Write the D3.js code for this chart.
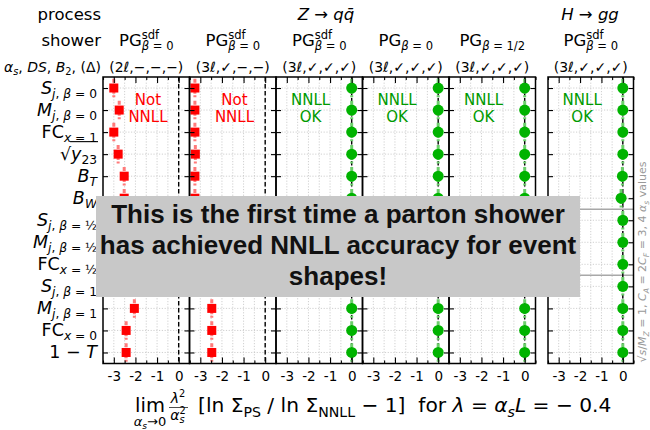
<!DOCTYPE html>
<html>
<head>
<meta charset="utf-8">
<script src="https://cdn.jsdelivr.net/npm/d3@7"></script>
<style>
  body { margin: 0; background: #fff; }
  svg { font-family: "DejaVu Sans", sans-serif; }
  svg text { white-space: pre; }
</style>
</head>
<body>
<div id="chart"></div>
<script>
// rows, top to bottom (*..* italic, _{..} subscript, ^{..} superscript)
const observables = [
  '*S*_{*j*, *β* = 0}', '*M*_{*j*, *β* = 0}', 'FC_{*x* = 1}', '√*y*_{23}', '*B*_{*T*}', '*B*_{*W*}',
  '*S*_{*j*, *β* = ½}', '*M*_{*j*, *β* = ½}', 'FC_{*x* = ½}', '*S*_{*j*, *β* = 1}', '*M*_{*j*, *β* = 1}',
  'FC_{*x* = 0}', '1 − *T*'
];

// one column per shower
const showerNames = ['PG^{sdf}_{*β* = 0}', 'PG^{sdf}_{*β* = 0}', 'PG^{sdf}_{*β* = 0}',
  'PG_{*β* = 0}', 'PG_{*β* = 1/2}', 'PG^{sdf}_{*β* = 0}'];
const showerFlags = ['(2ℓ,−,−,−)', '(3ℓ,✓,−,−)', '(3ℓ,✓,✓,✓)', '(3ℓ,✓,✓,✓)', '(3ℓ,✓,✓,✓)', '(3ℓ,✓,✓,✓)'];
const nnllOk = [false, false, true, true, true, true];

// lim (λ²/αs²)[ln Σ_PS / ln Σ_NNLL − 1], per observable
const pgSdf2loop = [-3.0, -2.75, -3.0, -2.8, -2.52, -2.52, -2.6, -2.45, -2.7, -2.3, -2.05, -2.43, -2.43];
const pgSdf3loopNoDS = [-3.25, -3.25, -3.25, -3.23, -3.25, -3.25, -3.2, -3.0, -3.2, -2.6, -2.47, -2.47, -2.47];
const pgSdfFull = [0, 0, 0, 0, 0, 0, 0, 0, 0, 0, 0, 0, 0];
const pgBeta0Full = [0, 0, 0, 0, 0, 0, 0, 0, 0, 0, 0, 0, 0];
const pgBetaHalfFull = [0, 0, 0, 0, 0, 0, 0, 0, 0, 0, 0, 0, 0];
const higgsSdfFull = [0, 0, 0, 0, -0.02, -0.08, 0, 0, 0, 0, 0, 0, 0];
const deviations = [pgSdf2loop, pgSdf3loopNoDS, pgSdfFull, pgBeta0Full, pgBetaHalfFull, higgsSdfFull];

const xTicks = [-3, -2, -1, 0];
const xDomain = [-3.5, 0.5];

// layout
const width = 650, height = 430;
const plotTop = 77, plotBottom = 363.5;
const panelW = 86.5;
const panelLeft = [103, 189.5, 276, 362.5, 449, 548];
const panelWidth = [panelW, panelW, panelW, panelW, panelW, 85.5];

const red = '#ff0000', redLight = '#ff7a7a';
const green = '#00b300', greenLight = '#6ccf6c', greenText = '#009a00';

const svg = d3.select('#chart').append('svg')
  .attr('width', width)
  .attr('height', height);

// small mathtext-like renderer
function rich(text, str, fs) {
  let italic = false, mode = 0, shift = 0, buf = '';
  let supWidth = 0, justClosedSup = false, stack = false;
  const flush = () => {
    if (!buf) return;
    const target = mode === 1 ? fs * 0.24 : mode === -1 ? -fs * 0.42 : 0;
    const t = text.append('tspan')
      .attr('dy', (target - shift).toFixed(2))
      .attr('font-size', mode ? fs * 0.7 : fs)
      .attr('font-style', italic ? 'italic' : null)
      .text(buf);
    if (stack) { t.attr('dx', -supWidth); stack = false; }
    if (mode === -1) supWidth += t.node().getComputedTextLength();
    justClosedSup = false;
    shift = target;
    buf = '';
  };
  for (let i = 0; i < str.length; i++) {
    const c = str[i];
    if ((c === '_' || c === '^') && str[i + 1] === '{') {
      flush();
      if (c === '_' && justClosedSup) stack = true;
      if (c === '^') supWidth = 0;
      mode = c === '_' ? 1 : -1;
      i++;
    } else if (c === '}') {
      flush();
      justClosedSup = mode === -1;
      mode = 0;
    } else if (c === '*') {
      flush();
      italic = !italic;
    } else {
      buf += c;
      justClosedSup = false;
    }
  }
  flush();
  return text;
}

const yScale = d3.scaleLinear()
  .domain([-0.5, observables.length - 0.5])
  .range([plotTop, plotBottom]);
const rows = d3.range(observables.length);

panelLeft.forEach((left, k) => {
  const xScale = d3.scaleLinear().domain(xDomain).range([left, left + panelWidth[k]]);
  const g = svg.append('g');

  // dotted grid
  g.selectAll('.vgrid').data(d3.range(-3, 0.01, 0.5)).enter().append('line')
    .attr('x1', d => xScale(d)).attr('x2', d => xScale(d))
    .attr('y1', plotTop).attr('y2', plotBottom)
    .attr('stroke', '#c4c4c4').attr('stroke-width', 0.8).attr('stroke-dasharray', '1.2,1.6');
  g.selectAll('.hgrid').data(rows).enter().append('line')
    .attr('x1', left).attr('x2', left + panelWidth[k])
    .attr('y1', d => yScale(d)).attr('y2', d => yScale(d))
    .attr('stroke', '#c4c4c4').attr('stroke-width', 0.8).attr('stroke-dasharray', '1.2,1.6');

  // group separators
  g.selectAll('.sep').data([5.5, 8.5]).enter().append('line')
    .attr('x1', left).attr('x2', left + panelWidth[k])
    .attr('y1', d => yScale(d)).attr('y2', d => yScale(d))
    .attr('stroke', '#a8a8a8').attr('stroke-width', 1.5);

  // zero line
  g.append('line')
    .attr('x1', xScale(0)).attr('x2', xScale(0))
    .attr('y1', plotTop).attr('y2', plotBottom)
    .attr('stroke', '#000').attr('stroke-width', 1.4).attr('stroke-dasharray', '4.5,2.5');

  const vals = deviations[k];
  const ok = nnllOk[k];

  // spread of the finite-alpha_s runs
  g.selectAll('.spread').data(vals).enter().append('line')
    .attr('x1', d => xScale(d)).attr('x2', d => xScale(d))
    .attr('y1', (d, i) => yScale(i - 0.42)).attr('y2', (d, i) => yScale(i + 0.42))
    .attr('stroke', ok ? greenLight : redLight).attr('stroke-width', 3)
    .attr('stroke-dasharray', '4,1.5');

  if (ok) {
    g.selectAll('.pt').data(vals).enter().append('circle')
      .attr('cx', d => xScale(d)).attr('cy', (d, i) => yScale(i))
      .attr('r', 5.5).attr('fill', green);
  } else {
    g.selectAll('.pt').data(vals).enter().append('rect')
      .attr('x', d => xScale(d) - 4.5).attr('y', (d, i) => yScale(i) - 4.5)
      .attr('width', 9).attr('height', 9).attr('fill', red);
  }

  // verdict
  const verdict = ok ? ['NNLL', 'OK'] : ['Not', 'NNLL'];
  g.selectAll('.verdict').data(verdict).enter().append('text')
    .attr('x', xScale(ok ? -1.9 : -1.42))
    .attr('y', (d, i) => yScale(0) + 17 + 17 * i)
    .attr('text-anchor', 'middle')
    .attr('font-size', 15)
    .attr('fill', ok ? greenText : red)
    .text(d => d);

  // axes (ticks inward)
  const styleAxis = sel => {
    sel.select('.domain').remove();
    sel.selectAll('line').attr('stroke', '#000').attr('stroke-width', 1.1);
  };
  const minor = d3.range(-3.5, 0.51, 0.5).filter(v => v % 1 !== 0);
  g.append('g').attr('transform', `translate(0,${plotBottom})`)
    .call(d3.axisBottom(xScale).tickValues(xTicks).tickSize(-6).tickPadding(8).tickFormat(d => String(d)))
    .call(styleAxis)
    .call(a => a.selectAll('text').attr('font-size', 13.5).attr('font-family', 'DejaVu Sans').attr('fill', '#000'));
  g.append('g').attr('transform', `translate(0,${plotBottom})`)
    .call(d3.axisBottom(xScale).tickValues(minor).tickSize(-3).tickFormat(''))
    .call(styleAxis);
  g.append('g').attr('transform', `translate(0,${plotTop})`)
    .call(d3.axisTop(xScale).tickValues(xTicks).tickSize(-6).tickFormat(''))
    .call(styleAxis);
  g.append('g').attr('transform', `translate(0,${plotTop})`)
    .call(d3.axisTop(xScale).tickValues(minor).tickSize(-3).tickFormat(''))
    .call(styleAxis);
  g.append('g').attr('transform', `translate(${left},0)`)
    .call(d3.axisLeft(yScale).tickValues(rows).tickSize(-5).tickFormat(''))
    .call(styleAxis);
  g.append('g').attr('transform', `translate(${left + panelWidth[k]},0)`)
    .call(d3.axisRight(yScale).tickValues(rows).tickSize(-5).tickFormat(''))
    .call(styleAxis);

  // frame
  g.append('rect')
    .attr('x', left).attr('y', plotTop)
    .attr('width', panelWidth[k]).attr('height', plotBottom - plotTop)
    .attr('fill', 'none').attr('stroke', '#000').attr('stroke-width', 1.5);

  // column headers
  const cx = left + panelWidth[k] / 2;
  rich(svg.append('text').attr('x', cx).attr('y', 46).attr('text-anchor', 'middle'), showerNames[k], 16.5);
  rich(svg.append('text').attr('x', cx).attr('y', 72).attr('text-anchor', 'middle'), showerFlags[k], 14);
});

// row labels
rows.forEach(i => {
  const t = rich(svg.append('text')
    .attr('x', 97).attr('y', yScale(i) + 5.5).attr('text-anchor', 'end'), observables[i], 17.5);
  if (observables[i].startsWith('√')) {
    const bb = t.node().getBBox();
    const root = t.select('tspan').node().getComputedTextLength();
    svg.append('line')
      .attr('x1', bb.x + root - 1).attr('x2', bb.x + bb.width + 1)
      .attr('y1', yScale(i) - 12.5).attr('y2', yScale(i) - 12.5)
      .attr('stroke', '#000').attr('stroke-width', 1.1);
  }
});

// left header
svg.append('text').attr('x', 101).attr('y', 20).attr('text-anchor', 'end').attr('font-size', 16.5).text('process');
svg.append('text').attr('x', 101).attr('y', 46).attr('text-anchor', 'end').attr('font-size', 16.5).text('shower');
rich(svg.append('text').attr('x', 101).attr('y', 72).attr('text-anchor', 'end'), '*α*_{*s*}, *DS*, *B*_{2}, (Δ)', 14);

// process headers
rich(svg.append('text').attr('x', 326).attr('y', 20).attr('text-anchor', 'middle'), '*Z* → *qq̄*', 16.5);
rich(svg.append('text').attr('x', 590).attr('y', 20).attr('text-anchor', 'middle'), '*H* → *gg*', 16.5);

// side note
rich(svg.append('text')
  .attr('transform', 'translate(646,262) rotate(-90)')
  .attr('text-anchor', 'middle')
  .attr('fill', '#999'), '√*s*/*M*_{*Z*} = 1, *C*_{*A*} = 2*C*_{*F*} = 3, 4 *α*_{*s*} values', 11);

// x-axis label
svg.append('text').attr('x', 150).attr('y', 412).attr('text-anchor', 'middle').attr('font-size', 19.5).text('lim');
rich(svg.append('text').attr('x', 150).attr('y', 426).attr('text-anchor', 'middle'), '*α*_{*s*}→0', 13);
rich(svg.append('text').attr('x', 178).attr('y', 403).attr('text-anchor', 'middle'), '*λ*^{2}', 14);
svg.append('line').attr('x1', 169).attr('x2', 188).attr('y1', 407.5).attr('y2', 407.5)
  .attr('stroke', '#000').attr('stroke-width', 0.7);
rich(svg.append('text').attr('x', 178).attr('y', 420).attr('text-anchor', 'middle'), '*α*^{2}_{*s*}', 14);
rich(svg.append('text').attr('x', 198).attr('y', 412),
  '[ln Σ_{PS} / ln Σ_{NNLL} − 1]  for *λ* = *α*_{*s*}*L* = − 0.4', 20.2);

// highlight box
const boxLines = ['This is the first time a parton shower', 'has achieved NNLL accuracy for event', 'shapes!'];
svg.append('rect')
  .attr('x', 96).attr('y', 196).attr('width', 484).attr('height', 101)
  .attr('fill', '#c8c8c8');
svg.selectAll('.boxline').data(boxLines).enter().append('text')
  .attr('x', 338).attr('y', (d, i) => 223 + 31 * i)
  .attr('text-anchor', 'middle')
  .attr('font-family', 'Liberation Sans, Arial, sans-serif')
  .attr('font-weight', 'bold')
  .attr('font-size', 26)
  .attr('fill', '#111')
  .text(d => d);
</script>
</body>
</html>
